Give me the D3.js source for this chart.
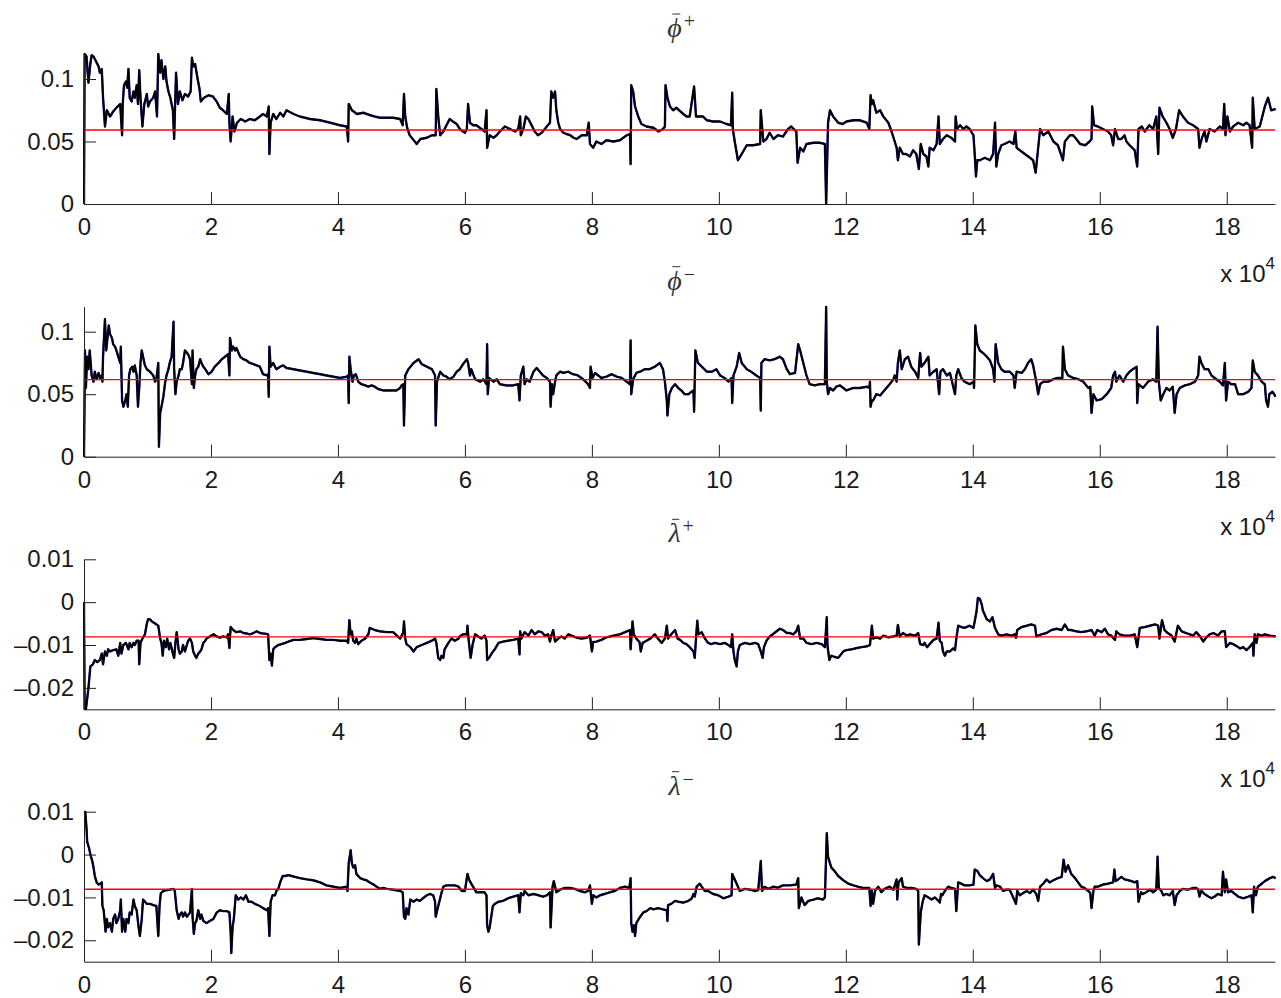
<!DOCTYPE html>
<html>
<head>
<meta charset="utf-8">
<script src="https://cdn.jsdelivr.net/npm/d3@7"></script>
<style>
  body { margin: 0; background: #fff; }
  text { font-family: "Liberation Sans", Arial, sans-serif; }
</style>
</head>
<body>
<div class="chart"></div>
<script>
// x values are in units of 10^4 samples

var xTicks = [0, 2, 4, 6, 8, 10, 12, 14, 16, 18];
var xMax = 18.76;
var phiTicks = [0, 0.05, 0.1];
var lambdaTicks = [-0.02, -0.01, 0, 0.01];

var titleSymbols = ["\u03d5", "\u03d5", "\u03bb", "\u03bb"];
var titleSigns = ["+", "\u2212", "+", "\u2212"];

// long-run means (red lines)
var meanPhiPlus = 0.0592;
var meanPhiMinus = 0.0616;
var meanLambdaPlus = -0.0081;
var meanLambdaMinus = -0.0081;

var phiPlus = [[0,0.0],[0.01,0.12],[0.04,0.118],[0.07,0.097],[0.10,0.112],[0.12,0.119],[0.15,0.118],[0.17,0.116],[0.20,0.113],[0.23,0.110],[0.25,0.105],[0.28,0.108],[0.30,0.085],[0.32,0.070],[0.33,0.062],[0.36,0.075],[0.41,0.070],[0.46,0.074],[0.51,0.077],[0.57,0.080],[0.60,0.055],[0.61,0.080],[0.63,0.095],[0.66,0.098],[0.68,0.093],[0.70,0.108],[0.72,0.085],[0.75,0.082],[0.78,0.090],[0.80,0.085],[0.83,0.095],[0.85,0.080],[0.87,0.107],[0.89,0.085],[0.92,0.062],[0.95,0.080],[0.99,0.088],[1.01,0.078],[1.04,0.082],[1.09,0.085],[1.12,0.090],[1.15,0.070],[1.17,0.120],[1.20,0.105],[1.22,0.115],[1.25,0.100],[1.28,0.110],[1.30,0.098],[1.33,0.090],[1.36,0.085],[1.40,0.075],[1.42,0.052],[1.43,0.070],[1.45,0.105],[1.48,0.080],[1.51,0.090],[1.55,0.083],[1.59,0.088],[1.64,0.086],[1.68,0.090],[1.70,0.117],[1.72,0.110],[1.75,0.112],[1.79,0.100],[1.82,0.092],[1.84,0.082],[1.89,0.085],[1.96,0.087],[2.03,0.086],[2.09,0.082],[2.14,0.077],[2.19,0.075],[2.25,0.072],[2.28,0.088],[2.29,0.065],[2.31,0.050],[2.34,0.070],[2.37,0.058],[2.41,0.065],[2.47,0.068],[2.54,0.066],[2.61,0.068],[2.69,0.067],[2.77,0.070],[2.82,0.072],[2.88,0.070],[2.91,0.078],[2.92,0.040],[2.94,0.065],[2.98,0.072],[3.03,0.068],[3.09,0.073],[3.14,0.070],[3.19,0.075],[3.30,0.072],[3.40,0.070],[3.56,0.068],[3.72,0.067],[3.88,0.065],[4.03,0.063],[4.14,0.062],[4.16,0.050],[4.17,0.080],[4.22,0.075],[4.30,0.072],[4.40,0.073],[4.51,0.071],[4.58,0.070],[4.66,0.069],[4.87,0.069],[4.98,0.068],[5.02,0.063],[5.04,0.088],[5.06,0.070],[5.09,0.061],[5.13,0.055],[5.21,0.050],[5.24,0.048],[5.30,0.052],[5.40,0.053],[5.48,0.055],[5.54,0.055],[5.55,0.092],[5.58,0.070],[5.61,0.055],[5.66,0.058],[5.71,0.063],[5.76,0.068],[5.81,0.066],[5.87,0.064],[5.92,0.060],[5.97,0.058],[6.00,0.057],[6.03,0.060],[6.05,0.080],[6.08,0.065],[6.13,0.063],[6.18,0.063],[6.26,0.060],[6.31,0.058],[6.34,0.075],[6.35,0.045],[6.39,0.055],[6.45,0.053],[6.50,0.055],[6.55,0.058],[6.63,0.062],[6.71,0.060],[6.79,0.058],[6.84,0.060],[6.87,0.070],[6.88,0.055],[6.92,0.060],[6.96,0.070],[7.00,0.068],[7.05,0.063],[7.10,0.058],[7.15,0.055],[7.21,0.057],[7.29,0.062],[7.34,0.065],[7.36,0.090],[7.39,0.085],[7.42,0.090],[7.44,0.075],[7.47,0.065],[7.50,0.060],[7.55,0.057],[7.60,0.056],[7.66,0.055],[7.71,0.053],[7.76,0.052],[7.84,0.055],[7.92,0.055],[7.95,0.065],[7.97,0.048],[8.02,0.045],[8.07,0.050],[8.15,0.048],[8.23,0.051],[8.34,0.050],[8.44,0.051],[8.55,0.055],[8.60,0.056],[8.61,0.032],[8.62,0.095],[8.65,0.090],[8.68,0.078],[8.73,0.070],[8.78,0.064],[8.86,0.062],[8.97,0.061],[9.05,0.058],[9.12,0.060],[9.15,0.062],[9.16,0.095],[9.19,0.085],[9.23,0.078],[9.28,0.075],[9.33,0.077],[9.44,0.072],[9.49,0.070],[9.54,0.070],[9.61,0.094],[9.64,0.070],[9.70,0.070],[9.75,0.070],[9.81,0.067],[9.91,0.066],[10.02,0.066],[10.12,0.064],[10.19,0.063],[10.21,0.089],[10.22,0.060],[10.25,0.050],[10.30,0.035],[10.36,0.040],[10.44,0.047],[10.54,0.047],[10.65,0.048],[10.66,0.075],[10.70,0.050],[10.75,0.052],[10.80,0.057],[10.86,0.052],[10.93,0.055],[11.01,0.054],[11.09,0.060],[11.14,0.062],[11.22,0.058],[11.24,0.033],[11.28,0.045],[11.33,0.042],[11.38,0.048],[11.49,0.049],[11.59,0.049],[11.67,0.048],[11.69,0.000],[11.72,0.065],[11.75,0.075],[11.80,0.070],[11.88,0.065],[11.95,0.064],[12.01,0.066],[12.12,0.067],[12.22,0.067],[12.33,0.065],[12.37,0.060],[12.39,0.087],[12.41,0.080],[12.43,0.083],[12.48,0.073],[12.54,0.075],[12.59,0.070],[12.67,0.065],[12.72,0.058],[12.77,0.050],[12.80,0.045],[12.82,0.035],[12.85,0.045],[12.90,0.040],[12.95,0.040],[13.01,0.038],[13.06,0.043],[13.11,0.040],[13.15,0.028],[13.18,0.048],[13.22,0.040],[13.27,0.038],[13.30,0.030],[13.32,0.045],[13.38,0.043],[13.43,0.048],[13.46,0.070],[13.48,0.048],[13.53,0.052],[13.59,0.055],[13.66,0.053],[13.72,0.050],[13.73,0.070],[13.75,0.060],[13.80,0.063],[13.85,0.060],[13.90,0.062],[13.95,0.060],[14.01,0.055],[14.03,0.040],[14.05,0.022],[14.07,0.035],[14.11,0.035],[14.19,0.037],[14.27,0.035],[14.32,0.040],[14.35,0.065],[14.37,0.030],[14.40,0.040],[14.45,0.047],[14.50,0.048],[14.58,0.050],[14.64,0.048],[14.67,0.058],[14.69,0.045],[14.74,0.043],[14.82,0.040],[14.90,0.037],[14.95,0.035],[14.99,0.025],[15.02,0.040],[15.06,0.060],[15.11,0.055],[15.19,0.058],[15.27,0.050],[15.34,0.047],[15.42,0.035],[15.45,0.050],[15.53,0.055],[15.58,0.055],[15.63,0.052],[15.69,0.048],[15.77,0.047],[15.84,0.050],[15.87,0.052],[15.88,0.078],[15.91,0.063],[15.97,0.062],[16.05,0.060],[16.13,0.058],[16.18,0.055],[16.21,0.047],[16.24,0.060],[16.29,0.052],[16.34,0.052],[16.39,0.055],[16.42,0.050],[16.47,0.047],[16.55,0.043],[16.59,0.030],[16.61,0.060],[16.66,0.062],[16.71,0.058],[16.78,0.063],[16.84,0.060],[16.89,0.070],[16.92,0.040],[16.94,0.077],[16.99,0.070],[17.05,0.065],[17.10,0.060],[17.15,0.053],[17.20,0.060],[17.25,0.075],[17.31,0.070],[17.39,0.065],[17.47,0.063],[17.55,0.060],[17.57,0.045],[17.61,0.053],[17.65,0.058],[17.68,0.050],[17.73,0.060],[17.81,0.058],[17.89,0.062],[17.94,0.060],[17.96,0.080],[17.98,0.055],[18.01,0.070],[18.05,0.058],[18.10,0.062],[18.18,0.065],[18.26,0.063],[18.31,0.065],[18.36,0.063],[18.40,0.045],[18.41,0.085],[18.44,0.060],[18.52,0.062],[18.60,0.078],[18.65,0.085],[18.70,0.075],[18.77,0.076]];

var phiMinus = [[0,0.0],[0.016,0.085],[0.03,0.055],[0.05,0.080],[0.07,0.070],[0.09,0.085],[0.12,0.065],[0.15,0.060],[0.17,0.068],[0.20,0.062],[0.23,0.067],[0.25,0.063],[0.28,0.065],[0.29,0.060],[0.30,0.080],[0.33,0.110],[0.35,0.085],[0.37,0.095],[0.39,0.105],[0.41,0.098],[0.44,0.095],[0.46,0.090],[0.49,0.088],[0.51,0.085],[0.54,0.080],[0.57,0.075],[0.58,0.088],[0.60,0.045],[0.62,0.040],[0.65,0.045],[0.67,0.050],[0.69,0.040],[0.71,0.065],[0.73,0.070],[0.76,0.072],[0.78,0.068],[0.80,0.073],[0.83,0.065],[0.85,0.040],[0.87,0.055],[0.89,0.075],[0.91,0.085],[0.93,0.080],[0.96,0.073],[0.99,0.070],[1.04,0.068],[1.09,0.065],[1.12,0.060],[1.14,0.062],[1.17,0.075],[1.18,0.008],[1.20,0.035],[1.22,0.040],[1.25,0.048],[1.28,0.060],[1.30,0.065],[1.33,0.070],[1.35,0.075],[1.38,0.080],[1.41,0.108],[1.42,0.070],[1.44,0.050],[1.46,0.060],[1.49,0.065],[1.51,0.070],[1.54,0.070],[1.56,0.075],[1.59,0.085],[1.64,0.082],[1.67,0.078],[1.70,0.058],[1.71,0.085],[1.73,0.055],[1.75,0.065],[1.77,0.070],[1.80,0.072],[1.83,0.078],[1.85,0.075],[1.88,0.072],[1.91,0.070],[1.96,0.066],[2.01,0.068],[2.06,0.072],[2.12,0.075],[2.17,0.078],[2.22,0.080],[2.27,0.082],[2.29,0.065],[2.30,0.095],[2.33,0.085],[2.35,0.088],[2.38,0.085],[2.40,0.087],[2.46,0.080],[2.51,0.078],[2.56,0.077],[2.61,0.075],[2.67,0.074],[2.72,0.073],[2.77,0.072],[2.82,0.066],[2.88,0.065],[2.90,0.066],[2.91,0.048],[2.92,0.088],[2.94,0.072],[2.98,0.075],[3.03,0.070],[3.09,0.072],[3.14,0.073],[3.19,0.071],[3.30,0.070],[3.40,0.069],[3.51,0.068],[3.61,0.067],[3.72,0.066],[3.82,0.065],[3.93,0.064],[4.03,0.063],[4.14,0.064],[4.16,0.065],[4.17,0.043],[4.18,0.080],[4.20,0.070],[4.23,0.060],[4.25,0.065],[4.28,0.066],[4.32,0.060],[4.37,0.058],[4.43,0.057],[4.48,0.056],[4.53,0.057],[4.58,0.056],[4.64,0.054],[4.71,0.053],[4.82,0.053],[4.92,0.053],[4.98,0.055],[5.00,0.057],[5.03,0.058],[5.04,0.025],[5.06,0.065],[5.11,0.070],[5.19,0.075],[5.27,0.078],[5.32,0.074],[5.40,0.072],[5.48,0.070],[5.53,0.065],[5.54,0.025],[5.56,0.060],[5.61,0.068],[5.66,0.065],[5.71,0.064],[5.76,0.062],[5.82,0.064],[5.87,0.068],[5.92,0.070],[5.97,0.074],[6.03,0.078],[6.05,0.075],[6.08,0.065],[6.10,0.070],[6.16,0.062],[6.24,0.060],[6.29,0.062],[6.34,0.058],[6.35,0.090],[6.36,0.050],[6.38,0.063],[6.45,0.060],[6.50,0.062],[6.55,0.058],[6.66,0.057],[6.76,0.057],[6.84,0.058],[6.86,0.045],[6.88,0.065],[6.92,0.072],[6.94,0.058],[6.97,0.062],[7.02,0.060],[7.08,0.068],[7.13,0.071],[7.18,0.068],[7.23,0.065],[7.29,0.063],[7.34,0.060],[7.35,0.040],[7.37,0.058],[7.39,0.050],[7.42,0.060],[7.44,0.065],[7.50,0.068],[7.55,0.067],[7.63,0.068],[7.70,0.066],[7.78,0.065],[7.86,0.062],[7.94,0.058],[7.97,0.055],[7.98,0.072],[8.01,0.063],[8.05,0.067],[8.10,0.065],[8.15,0.063],[8.23,0.064],[8.31,0.066],[8.39,0.064],[8.47,0.063],[8.55,0.060],[8.60,0.058],[8.61,0.093],[8.62,0.050],[8.65,0.062],[8.70,0.067],[8.76,0.068],[8.83,0.070],[8.91,0.070],[8.99,0.072],[9.07,0.075],[9.12,0.070],[9.15,0.060],[9.18,0.045],[9.19,0.033],[9.22,0.050],[9.26,0.055],[9.31,0.058],[9.36,0.055],[9.41,0.053],[9.46,0.050],[9.52,0.050],[9.57,0.052],[9.60,0.053],[9.61,0.036],[9.63,0.085],[9.67,0.075],[9.73,0.072],[9.81,0.068],[9.89,0.068],[9.96,0.070],[10.02,0.065],[10.09,0.063],[10.15,0.060],[10.20,0.063],[10.21,0.043],[10.23,0.065],[10.28,0.072],[10.32,0.083],[10.36,0.075],[10.44,0.070],[10.51,0.068],[10.59,0.065],[10.65,0.063],[10.66,0.037],[10.67,0.075],[10.72,0.078],[10.80,0.077],[10.88,0.078],[10.96,0.080],[11.01,0.078],[11.07,0.070],[11.12,0.066],[11.20,0.067],[11.25,0.090],[11.28,0.085],[11.33,0.075],[11.38,0.065],[11.43,0.058],[11.51,0.057],[11.59,0.058],[11.67,0.058],[11.69,0.120],[11.70,0.060],[11.72,0.050],[11.75,0.055],[11.80,0.053],[11.85,0.056],[11.91,0.057],[12.01,0.053],[12.12,0.055],[12.22,0.055],[12.33,0.056],[12.37,0.055],[12.38,0.060],[12.39,0.040],[12.41,0.045],[12.43,0.045],[12.48,0.050],[12.54,0.049],[12.59,0.052],[12.64,0.055],[12.69,0.058],[12.75,0.062],[12.77,0.065],[12.80,0.060],[12.82,0.075],[12.85,0.085],[12.88,0.070],[12.93,0.078],[12.98,0.080],[13.03,0.072],[13.09,0.068],[13.14,0.063],[13.17,0.083],[13.19,0.072],[13.24,0.075],[13.30,0.080],[13.32,0.065],[13.38,0.068],[13.43,0.070],[13.47,0.050],[13.49,0.068],[13.53,0.070],[13.59,0.065],[13.64,0.067],[13.72,0.050],[13.74,0.065],[13.77,0.070],[13.82,0.063],[13.87,0.060],[13.95,0.058],[14.01,0.060],[14.02,0.055],[14.04,0.105],[14.07,0.090],[14.11,0.085],[14.16,0.083],[14.22,0.080],[14.27,0.077],[14.32,0.070],[14.34,0.060],[14.36,0.090],[14.40,0.075],[14.45,0.070],[14.50,0.068],[14.58,0.068],[14.64,0.065],[14.66,0.055],[14.69,0.068],[14.77,0.067],[14.82,0.070],[14.87,0.075],[14.92,0.078],[14.95,0.073],[15.00,0.060],[15.03,0.050],[15.06,0.058],[15.11,0.060],[15.19,0.060],[15.27,0.062],[15.34,0.063],[15.41,0.063],[15.42,0.088],[15.45,0.070],[15.50,0.065],[15.58,0.063],[15.66,0.062],[15.74,0.060],[15.82,0.055],[15.85,0.056],[15.87,0.035],[15.90,0.050],[15.95,0.045],[16.03,0.046],[16.11,0.050],[16.18,0.055],[16.21,0.065],[16.24,0.068],[16.26,0.060],[16.31,0.065],[16.37,0.060],[16.42,0.065],[16.47,0.068],[16.52,0.070],[16.58,0.072],[16.59,0.043],[16.61,0.058],[16.68,0.055],[16.76,0.060],[16.84,0.062],[16.89,0.060],[16.91,0.104],[16.93,0.060],[16.96,0.045],[17.00,0.050],[17.05,0.055],[17.10,0.053],[17.15,0.056],[17.18,0.035],[17.21,0.050],[17.26,0.055],[17.34,0.057],[17.42,0.058],[17.50,0.060],[17.55,0.065],[17.57,0.080],[17.60,0.075],[17.65,0.070],[17.71,0.070],[17.76,0.065],[17.81,0.063],[17.89,0.060],[17.94,0.057],[17.97,0.075],[17.99,0.045],[18.02,0.060],[18.07,0.058],[18.13,0.058],[18.18,0.050],[18.26,0.050],[18.34,0.052],[18.39,0.055],[18.41,0.077],[18.44,0.068],[18.49,0.065],[18.55,0.060],[18.60,0.058],[18.62,0.045],[18.65,0.040],[18.67,0.050],[18.72,0.052],[18.77,0.048]];

var lambdaPlus = [[0,0.0],[0.01,-0.025],[0.03,-0.025],[0.07,-0.020],[0.10,-0.015],[0.14,-0.0145],[0.17,-0.0135],[0.21,-0.014],[0.25,-0.0135],[0.28,-0.012],[0.30,-0.0145],[0.33,-0.0115],[0.36,-0.0125],[0.38,-0.011],[0.41,-0.0115],[0.46,-0.0112],[0.51,-0.011],[0.54,-0.0125],[0.57,-0.0095],[0.59,-0.012],[0.62,-0.010],[0.66,-0.0095],[0.70,-0.011],[0.72,-0.0095],[0.75,-0.0105],[0.78,-0.0095],[0.80,-0.010],[0.83,-0.009],[0.86,-0.009],[0.87,-0.0145],[0.89,-0.0095],[0.92,-0.0085],[0.96,-0.0075],[0.99,-0.005],[1.01,-0.004],[1.04,-0.004],[1.07,-0.0045],[1.12,-0.005],[1.17,-0.0055],[1.20,-0.0085],[1.22,-0.0095],[1.24,-0.0125],[1.26,-0.009],[1.29,-0.0105],[1.31,-0.0085],[1.34,-0.011],[1.36,-0.0095],[1.40,-0.012],[1.42,-0.013],[1.44,-0.0095],[1.46,-0.007],[1.49,-0.011],[1.51,-0.012],[1.54,-0.0115],[1.56,-0.010],[1.59,-0.0115],[1.62,-0.010],[1.64,-0.009],[1.67,-0.0085],[1.70,-0.0095],[1.72,-0.0115],[1.75,-0.0125],[1.77,-0.013],[1.80,-0.012],[1.83,-0.0115],[1.85,-0.011],[1.88,-0.0095],[1.91,-0.009],[1.93,-0.0085],[1.98,-0.008],[2.04,-0.0075],[2.09,-0.008],[2.14,-0.0083],[2.19,-0.008],[2.25,-0.0082],[2.27,-0.0075],[2.29,-0.0107],[2.31,-0.0058],[2.35,-0.0065],[2.40,-0.007],[2.46,-0.0068],[2.51,-0.0072],[2.56,-0.0073],[2.61,-0.0075],[2.67,-0.0072],[2.72,-0.0068],[2.77,-0.0072],[2.82,-0.0073],[2.88,-0.0074],[2.90,-0.0075],[2.92,-0.0135],[2.94,-0.012],[2.96,-0.0148],[2.98,-0.011],[3.01,-0.0105],[3.06,-0.010],[3.11,-0.0098],[3.17,-0.0095],[3.22,-0.0092],[3.30,-0.0088],[3.40,-0.0088],[3.51,-0.0086],[3.61,-0.0084],[3.72,-0.0086],[3.82,-0.0088],[3.93,-0.0088],[4.03,-0.009],[4.14,-0.009],[4.16,-0.0095],[4.18,-0.0042],[4.20,-0.0075],[4.22,-0.0068],[4.24,-0.009],[4.27,-0.0095],[4.29,-0.0085],[4.32,-0.0098],[4.37,-0.009],[4.43,-0.0085],[4.48,-0.0075],[4.50,-0.006],[4.58,-0.0065],[4.66,-0.0068],[4.77,-0.007],[4.87,-0.007],[4.98,-0.0085],[5.03,-0.007],[5.04,-0.0045],[5.06,-0.0085],[5.08,-0.0098],[5.14,-0.0105],[5.19,-0.0115],[5.24,-0.0105],[5.32,-0.010],[5.40,-0.0095],[5.48,-0.009],[5.53,-0.0085],[5.55,-0.0095],[5.58,-0.013],[5.61,-0.0135],[5.63,-0.0125],[5.66,-0.013],[5.68,-0.011],[5.74,-0.0095],[5.79,-0.0085],[5.84,-0.009],[5.90,-0.0085],[5.92,-0.008],[5.97,-0.0075],[6.03,-0.0075],[6.04,-0.0055],[6.06,-0.009],[6.09,-0.013],[6.12,-0.010],[6.16,-0.0075],[6.21,-0.008],[6.26,-0.0085],[6.31,-0.0078],[6.34,-0.009],[6.35,-0.0135],[6.38,-0.013],[6.42,-0.012],[6.47,-0.011],[6.53,-0.0095],[6.60,-0.0092],[6.68,-0.009],[6.76,-0.0088],[6.84,-0.0085],[6.86,-0.0122],[6.87,-0.0068],[6.89,-0.0085],[6.94,-0.007],[7.00,-0.0078],[7.05,-0.0065],[7.10,-0.0075],[7.16,-0.0068],[7.21,-0.007],[7.26,-0.0078],[7.31,-0.0075],[7.34,-0.0092],[7.36,-0.0078],[7.39,-0.0065],[7.42,-0.0092],[7.47,-0.0085],[7.52,-0.008],[7.57,-0.0085],[7.63,-0.0075],[7.68,-0.0078],[7.76,-0.0083],[7.84,-0.0085],[7.92,-0.0083],[7.97,-0.0078],[8.00,-0.0115],[8.02,-0.0093],[8.07,-0.0092],[8.15,-0.0088],[8.23,-0.0082],[8.34,-0.0078],[8.44,-0.0075],[8.55,-0.0068],[8.60,-0.0065],[8.61,-0.011],[8.64,-0.0045],[8.66,-0.0075],[8.70,-0.0085],[8.75,-0.0093],[8.77,-0.0115],[8.80,-0.0095],[8.86,-0.009],[8.92,-0.0085],[8.99,-0.0075],[9.04,-0.0085],[9.10,-0.0095],[9.15,-0.0085],[9.18,-0.0055],[9.20,-0.0085],[9.25,-0.0075],[9.31,-0.0065],[9.35,-0.0085],[9.39,-0.0088],[9.44,-0.0095],[9.49,-0.0098],[9.54,-0.0105],[9.60,-0.0115],[9.62,-0.013],[9.64,-0.0085],[9.66,-0.0043],[9.68,-0.0075],[9.73,-0.007],[9.78,-0.0085],[9.83,-0.0095],[9.88,-0.0098],[9.94,-0.0095],[10.02,-0.0098],[10.09,-0.0095],[10.15,-0.010],[10.19,-0.0105],[10.21,-0.0075],[10.23,-0.0115],[10.25,-0.0135],[10.28,-0.015],[10.30,-0.0115],[10.33,-0.010],[10.41,-0.0095],[10.49,-0.0098],[10.57,-0.0095],[10.62,-0.0098],[10.66,-0.0115],[10.69,-0.013],[10.71,-0.0105],[10.75,-0.009],[10.80,-0.008],[10.85,-0.0075],[10.91,-0.0068],[10.96,-0.0062],[11.01,-0.0065],[11.07,-0.0072],[11.12,-0.0072],[11.17,-0.0075],[11.22,-0.0068],[11.25,-0.0055],[11.28,-0.0085],[11.33,-0.0085],[11.38,-0.0095],[11.46,-0.0098],[11.54,-0.0095],[11.62,-0.0098],[11.67,-0.0105],[11.70,-0.0035],[11.71,-0.010],[11.74,-0.0135],[11.77,-0.0125],[11.83,-0.0128],[11.88,-0.013],[11.96,-0.0115],[12.01,-0.0112],[12.09,-0.011],[12.17,-0.0107],[12.25,-0.0105],[12.33,-0.0103],[12.38,-0.010],[12.41,-0.0055],[12.43,-0.0085],[12.48,-0.0082],[12.54,-0.0085],[12.59,-0.0078],[12.67,-0.0082],[12.75,-0.008],[12.80,-0.0078],[12.82,-0.0053],[12.85,-0.008],[12.90,-0.0072],[12.96,-0.0078],[13.01,-0.0075],[13.09,-0.0078],[13.14,-0.0072],[13.17,-0.0098],[13.22,-0.010],[13.24,-0.0095],[13.28,-0.0105],[13.32,-0.0098],[13.38,-0.0088],[13.43,-0.0085],[13.46,-0.0048],[13.48,-0.009],[13.51,-0.0095],[13.53,-0.0115],[13.56,-0.0125],[13.59,-0.0115],[13.64,-0.0115],[13.69,-0.0108],[13.72,-0.0112],[13.74,-0.0085],[13.77,-0.0055],[13.82,-0.0058],[13.87,-0.006],[13.95,-0.0055],[14.01,-0.006],[14.03,-0.0045],[14.06,-0.002],[14.08,0.001],[14.11,0.0008],[14.14,-0.0005],[14.16,-0.002],[14.22,-0.004],[14.27,-0.0045],[14.31,-0.0035],[14.35,-0.006],[14.40,-0.0075],[14.45,-0.0078],[14.53,-0.0075],[14.61,-0.0078],[14.66,-0.0075],[14.68,-0.0083],[14.70,-0.0065],[14.77,-0.0058],[14.85,-0.0055],[14.92,-0.0052],[14.98,-0.0055],[15.00,-0.008],[15.03,-0.0078],[15.08,-0.0075],[15.16,-0.0072],[15.24,-0.0065],[15.32,-0.0062],[15.40,-0.0065],[15.45,-0.0052],[15.50,-0.0065],[15.55,-0.0065],[15.63,-0.0068],[15.71,-0.007],[15.79,-0.0068],[15.87,-0.0065],[15.92,-0.0078],[15.96,-0.0065],[16.03,-0.007],[16.08,-0.0062],[16.13,-0.0075],[16.18,-0.0078],[16.24,-0.0088],[16.26,-0.0068],[16.31,-0.0075],[16.39,-0.0078],[16.47,-0.0078],[16.55,-0.0075],[16.59,-0.0105],[16.63,-0.006],[16.71,-0.0058],[16.79,-0.0055],[16.87,-0.0052],[16.92,-0.0055],[16.94,-0.0085],[16.98,-0.0042],[17.02,-0.0065],[17.07,-0.0072],[17.13,-0.0078],[17.18,-0.0092],[17.23,-0.0055],[17.29,-0.0068],[17.36,-0.0072],[17.42,-0.0075],[17.47,-0.0078],[17.52,-0.007],[17.58,-0.008],[17.63,-0.0092],[17.68,-0.0082],[17.73,-0.0075],[17.79,-0.0072],[17.86,-0.0078],[17.92,-0.0068],[17.97,-0.0068],[17.99,-0.0105],[18.05,-0.0095],[18.10,-0.0098],[18.15,-0.0102],[18.21,-0.0108],[18.26,-0.0105],[18.31,-0.0112],[18.36,-0.0105],[18.41,-0.0095],[18.42,-0.0125],[18.44,-0.0075],[18.47,-0.0095],[18.49,-0.0075],[18.55,-0.0078],[18.60,-0.0075],[18.68,-0.0078],[18.77,-0.008]];

var lambdaMinus = [[0,0.01],[0.02,0.010],[0.04,0.006],[0.05,0.003],[0.08,0.0015],[0.10,0.0],[0.13,-0.0015],[0.15,-0.003],[0.17,-0.005],[0.20,-0.0065],[0.23,-0.007],[0.26,-0.0068],[0.28,-0.0065],[0.29,-0.012],[0.31,-0.013],[0.34,-0.018],[0.36,-0.015],[0.38,-0.017],[0.41,-0.016],[0.44,-0.018],[0.46,-0.015],[0.49,-0.014],[0.51,-0.016],[0.54,-0.015],[0.57,-0.013],[0.58,-0.0105],[0.60,-0.018],[0.62,-0.015],[0.65,-0.018],[0.67,-0.015],[0.70,-0.016],[0.72,-0.0135],[0.75,-0.014],[0.78,-0.0105],[0.80,-0.012],[0.83,-0.013],[0.86,-0.017],[0.88,-0.019],[0.91,-0.015],[0.93,-0.0105],[0.96,-0.011],[0.99,-0.0115],[1.04,-0.0115],[1.09,-0.0118],[1.14,-0.012],[1.17,-0.019],[1.19,-0.012],[1.21,-0.009],[1.25,-0.0085],[1.30,-0.0083],[1.35,-0.0082],[1.41,-0.008],[1.43,-0.0085],[1.46,-0.013],[1.49,-0.015],[1.51,-0.014],[1.54,-0.0135],[1.56,-0.0145],[1.59,-0.0135],[1.62,-0.0145],[1.67,-0.0135],[1.70,-0.008],[1.71,-0.0145],[1.73,-0.0185],[1.75,-0.016],[1.77,-0.0155],[1.80,-0.013],[1.83,-0.015],[1.85,-0.014],[1.88,-0.0155],[1.93,-0.016],[1.98,-0.0155],[2.04,-0.015],[2.09,-0.0135],[2.14,-0.013],[2.19,-0.0132],[2.25,-0.0132],[2.29,-0.0135],[2.31,-0.018],[2.32,-0.023],[2.34,-0.017],[2.36,-0.015],[2.39,-0.0095],[2.43,-0.0105],[2.47,-0.010],[2.51,-0.0105],[2.55,-0.0095],[2.59,-0.011],[2.64,-0.011],[2.69,-0.0115],[2.77,-0.012],[2.82,-0.0125],[2.88,-0.013],[2.90,-0.0125],[2.92,-0.019],[2.94,-0.011],[2.97,-0.0095],[3.01,-0.0095],[3.03,-0.0085],[3.06,-0.008],[3.09,-0.0065],[3.13,-0.005],[3.17,-0.005],[3.22,-0.0048],[3.27,-0.005],[3.32,-0.0052],[3.40,-0.0055],[3.51,-0.0058],[3.61,-0.006],[3.72,-0.0065],[3.82,-0.0072],[3.93,-0.0075],[4.03,-0.0078],[4.14,-0.0075],[4.15,-0.0085],[4.17,-0.002],[4.20,0.001],[4.22,-0.002],[4.24,-0.003],[4.27,-0.0025],[4.29,-0.0045],[4.35,-0.0055],[4.40,-0.0058],[4.45,-0.006],[4.50,-0.0065],[4.56,-0.007],[4.61,-0.0075],[4.66,-0.008],[4.71,-0.0078],[4.77,-0.008],[4.87,-0.0082],[4.98,-0.0085],[5.02,-0.0088],[5.04,-0.0145],[5.06,-0.015],[5.08,-0.0125],[5.11,-0.014],[5.14,-0.0105],[5.19,-0.011],[5.24,-0.0105],[5.29,-0.0108],[5.34,-0.0102],[5.40,-0.0095],[5.45,-0.0092],[5.50,-0.0095],[5.53,-0.011],[5.54,-0.0145],[5.58,-0.012],[5.63,-0.009],[5.66,-0.0075],[5.71,-0.0072],[5.79,-0.0072],[5.84,-0.0072],[5.90,-0.0075],[5.95,-0.0085],[6.00,-0.0085],[6.04,-0.0045],[6.07,-0.006],[6.10,-0.0068],[6.14,-0.0078],[6.18,-0.0088],[6.26,-0.0088],[6.31,-0.0088],[6.34,-0.0095],[6.35,-0.0165],[6.37,-0.018],[6.39,-0.017],[6.44,-0.012],[6.47,-0.0115],[6.53,-0.011],[6.60,-0.0108],[6.68,-0.0102],[6.76,-0.0098],[6.84,-0.0095],[6.86,-0.0135],[6.88,-0.009],[6.92,-0.0095],[6.94,-0.0085],[7.00,-0.0095],[7.08,-0.0092],[7.16,-0.0095],[7.23,-0.0098],[7.29,-0.0095],[7.34,-0.0088],[7.35,-0.017],[7.38,-0.0075],[7.40,-0.0062],[7.44,-0.0088],[7.50,-0.0082],[7.57,-0.0078],[7.65,-0.0078],[7.73,-0.008],[7.81,-0.0085],[7.89,-0.0088],[7.94,-0.0085],[7.97,-0.0072],[8.00,-0.0115],[8.02,-0.0095],[8.07,-0.010],[8.13,-0.0095],[8.20,-0.0092],[8.28,-0.0088],[8.36,-0.0085],[8.44,-0.0078],[8.52,-0.0075],[8.59,-0.0078],[8.61,-0.0055],[8.62,-0.016],[8.64,-0.018],[8.66,-0.0165],[8.68,-0.019],[8.70,-0.016],[8.76,-0.0145],[8.81,-0.0135],[8.86,-0.0132],[8.92,-0.0125],[8.97,-0.0128],[9.04,-0.0125],[9.12,-0.0128],[9.18,-0.013],[9.19,-0.0155],[9.20,-0.0118],[9.25,-0.0115],[9.31,-0.0108],[9.36,-0.011],[9.44,-0.0112],[9.52,-0.0108],[9.57,-0.0103],[9.60,-0.0092],[9.62,-0.0098],[9.65,-0.0075],[9.70,-0.0068],[9.73,-0.0075],[9.78,-0.0085],[9.83,-0.0085],[9.91,-0.0092],[9.99,-0.0095],[10.07,-0.0102],[10.15,-0.0098],[10.20,-0.0095],[10.21,-0.0045],[10.25,-0.0058],[10.28,-0.0068],[10.33,-0.0085],[10.41,-0.008],[10.49,-0.0082],[10.57,-0.0085],[10.62,-0.0083],[10.66,-0.0015],[10.68,-0.0085],[10.72,-0.0075],[10.78,-0.008],[10.86,-0.0075],[10.93,-0.0077],[11.01,-0.0072],[11.12,-0.0072],[11.22,-0.007],[11.25,-0.0055],[11.26,-0.0125],[11.30,-0.010],[11.35,-0.0118],[11.41,-0.0108],[11.49,-0.0105],[11.56,-0.0102],[11.64,-0.0105],[11.67,-0.010],[11.70,0.005],[11.72,-0.0005],[11.75,-0.002],[11.77,-0.003],[11.83,-0.004],[11.88,-0.005],[11.96,-0.006],[12.04,-0.0068],[12.12,-0.0072],[12.19,-0.0075],[12.27,-0.0078],[12.37,-0.0078],[12.39,-0.012],[12.41,-0.0085],[12.43,-0.0115],[12.46,-0.0085],[12.51,-0.0075],[12.56,-0.0088],[12.61,-0.008],[12.69,-0.0075],[12.75,-0.0082],[12.80,-0.0058],[12.81,-0.0105],[12.83,-0.0065],[12.88,-0.0055],[12.90,-0.0075],[12.96,-0.0078],[13.03,-0.0078],[13.11,-0.008],[13.14,-0.0085],[13.15,-0.021],[13.18,-0.0135],[13.21,-0.011],[13.24,-0.0095],[13.30,-0.010],[13.35,-0.0105],[13.40,-0.010],[13.46,-0.0108],[13.48,-0.0112],[13.50,-0.0092],[13.52,-0.0095],[13.56,-0.0085],[13.61,-0.0075],[13.66,-0.0078],[13.72,-0.008],[13.74,-0.0132],[13.77,-0.0065],[13.82,-0.0068],[13.87,-0.0072],[13.95,-0.0072],[14.01,-0.007],[14.03,-0.0035],[14.07,-0.0038],[14.11,-0.0048],[14.16,-0.0055],[14.22,-0.0062],[14.27,-0.0058],[14.32,-0.0045],[14.35,-0.0078],[14.37,-0.0072],[14.43,-0.0075],[14.48,-0.0085],[14.53,-0.0082],[14.58,-0.0082],[14.63,-0.0098],[14.68,-0.0115],[14.70,-0.0085],[14.74,-0.0095],[14.79,-0.009],[14.85,-0.0085],[14.90,-0.009],[14.95,-0.0082],[15.00,-0.0092],[15.03,-0.0108],[15.06,-0.0075],[15.11,-0.0068],[15.16,-0.0058],[15.21,-0.0065],[15.27,-0.006],[15.34,-0.0055],[15.40,-0.0052],[15.43,-0.0012],[15.46,-0.004],[15.50,-0.0025],[15.55,-0.0045],[15.61,-0.0055],[15.66,-0.0065],[15.71,-0.0075],[15.76,-0.0078],[15.82,-0.0085],[15.85,-0.009],[15.87,-0.0125],[15.90,-0.0085],[15.92,-0.0075],[15.97,-0.0075],[16.05,-0.007],[16.13,-0.0068],[16.21,-0.0065],[16.23,-0.0035],[16.25,-0.0062],[16.29,-0.0058],[16.34,-0.0052],[16.39,-0.0058],[16.45,-0.006],[16.50,-0.0062],[16.55,-0.0065],[16.59,-0.0062],[16.61,-0.011],[16.65,-0.0088],[16.68,-0.0092],[16.73,-0.0088],[16.79,-0.0082],[16.84,-0.0088],[16.89,-0.0082],[16.91,-0.0005],[16.93,-0.0078],[16.97,-0.0085],[17.00,-0.0095],[17.05,-0.0092],[17.10,-0.0095],[17.15,-0.0085],[17.18,-0.0118],[17.21,-0.0095],[17.26,-0.0085],[17.31,-0.008],[17.39,-0.0082],[17.47,-0.0078],[17.52,-0.0078],[17.55,-0.0082],[17.57,-0.0098],[17.60,-0.0085],[17.65,-0.0092],[17.71,-0.0098],[17.76,-0.0102],[17.81,-0.0098],[17.86,-0.0092],[17.92,-0.0095],[17.94,-0.004],[17.97,-0.0088],[17.99,-0.0058],[18.02,-0.0088],[18.07,-0.0085],[18.13,-0.0092],[18.18,-0.0098],[18.26,-0.0102],[18.34,-0.0098],[18.39,-0.0095],[18.41,-0.0135],[18.43,-0.0075],[18.46,-0.0095],[18.49,-0.0075],[18.55,-0.0068],[18.60,-0.0062],[18.68,-0.0055],[18.73,-0.0052],[18.77,-0.0055]];

document.addEventListener('DOMContentLoaded', function () {

  var width = 1281;
  var height = 998;
  var left = 84, right = 1275;
  var panelH = 150;
  var panelTops = [54, 306.7, 559.3, 811.7];

  var panels = [
    { data: phiPlus, mean: meanPhiPlus, domain: [0, 0.12], ticks: phiTicks },
    { data: phiMinus, mean: meanPhiMinus, domain: [0, 0.12], ticks: phiTicks },
    { data: lambdaPlus, mean: meanLambdaPlus, domain: [-0.025, 0.01], ticks: lambdaTicks },
    { data: lambdaMinus, mean: meanLambdaMinus, domain: [-0.025, 0.01], ticks: lambdaTicks }
  ];

  var svg = d3.select('.chart')
    .append('svg')
    .attr('width', width)
    .attr('height', height)
    .style('display', 'block')
    .style('background', '#fff');

  var xScale = d3.scaleLinear().domain([0, xMax]).range([left, right]);

  // MATLAB draws a long minus in tick labels
  var yFormat = function (d) {
    if (d === 0) return '0';
    return (d < 0 ? '\u2013' : '') + Math.abs(d);
  };

  panels.forEach(function (p, i) {
    var top = panelTops[i];
    var yScale = d3.scaleLinear().domain(p.domain).range([top + panelH, top]);
    var g = svg.append('g');

    // clip the traces to the axes box
    var clipId = 'clip' + i;
    svg.append('clipPath').attr('id', clipId)
      .append('rect')
      .attr('x', left - 1).attr('y', top - 1)
      .attr('width', right - left + 2).attr('height', panelH + 2);

    var line = d3.line()
      .x(function (d) { return xScale(d[0]); })
      .y(function (d) { return yScale(d[1]); });

    // faint blue trace under the black one, as in the original figure
    g.append('path')
      .datum(p.data)
      .attr('clip-path', 'url(#' + clipId + ')')
      .attr('fill', 'none')
      .attr('stroke', '#1a1a8c')
      .attr('stroke-width', 2.4)
      .attr('stroke-linejoin', 'round')
      .attr('d', line);

    g.append('path')
      .datum(p.data)
      .attr('clip-path', 'url(#' + clipId + ')')
      .attr('fill', 'none')
      .attr('stroke', '#000')
      .attr('stroke-width', 1.8)
      .attr('stroke-linejoin', 'round')
      .attr('d', line);

    g.append('line')
      .attr('x1', xScale(0)).attr('x2', xScale(xMax))
      .attr('y1', yScale(p.mean)).attr('y2', yScale(p.mean))
      .attr('stroke', '#ff0000')
      .attr('stroke-width', 1.3);

    // axes, ticks pointing inward
    var xAxis = d3.axisBottom(xScale)
      .tickValues(xTicks)
      .tickSizeInner(-12)
      .tickSizeOuter(0)
      .tickPadding(14);
    var yAxis = d3.axisLeft(yScale)
      .tickValues(p.ticks)
      .tickFormat(yFormat)
      .tickSizeInner(-12)
      .tickSizeOuter(0)
      .tickPadding(10);

    var gx = g.append('g')
      .attr('transform', 'translate(0,' + (top + panelH) + ')')
      .call(xAxis);
    var gy = g.append('g')
      .attr('transform', 'translate(' + left + ',0)')
      .call(yAxis);

    [gx, gy].forEach(function (a) {
      a.selectAll('path, line').attr('stroke', '#222');
      a.selectAll('text')
        .attr('fill', '#1a1a1a')
        .style('font-size', '24px')
        .style('font-family', '"Liberation Sans", Arial, sans-serif');
    });

    // title: symbol with a bar over it and a raised sign
    var cx = (left + right) / 2;
    var base = top - 17;
    var sym = g.append('text')
      .attr('x', cx - 5)
      .attr('y', base)
      .attr('text-anchor', 'middle')
      .attr('fill', '#333')
      .style('font-family', '"Liberation Serif", "DejaVu Serif", serif')
      .style('font-style', 'italic')
      .style('font-size', '28px')
      .text(titleSymbols[i]);
    var bb = sym.node().getBBox();
    g.append('line')
      .attr('x1', bb.x + bb.width * 0.35).attr('x2', bb.x + bb.width * 0.9)
      .attr('y1', base - 23).attr('y2', base - 23)
      .attr('stroke', '#333')
      .attr('stroke-width', 1);
    g.append('text')
      .attr('x', bb.x + bb.width + 2)
      .attr('y', base - 9)
      .attr('fill', '#333')
      .style('font-family', '"Liberation Serif", "DejaVu Serif", serif')
      .style('font-size', '20px')
      .text(titleSigns[i]);

    // x 10^4 multiplier (the last one falls below the figure)
    if (top + panelH + 78 < height) {
      var m = g.append('text')
        .attr('x', right)
        .attr('y', top + panelH + 78)
        .attr('text-anchor', 'end')
        .attr('fill', '#1a1a1a')
        .style('font-size', '24px');
      m.append('tspan').text('x 10');
      m.append('tspan').attr('dy', -13).style('font-size', '17px').text('4');
    }
  });
});
</script>
</body>
</html>
